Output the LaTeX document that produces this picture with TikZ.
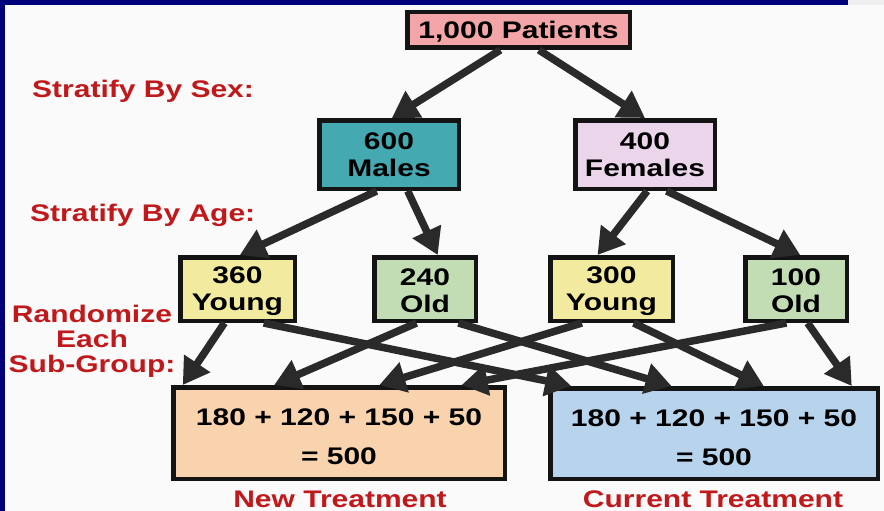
\documentclass[tikz,border=0pt]{standalone}
\usepackage{fontspec}
\setmainfont{Liberation Sans}[FakeStretch=1.25]
\usetikzlibrary{arrows.meta,calc}
\definecolor{navyc}{HTML}{00007A}
\definecolor{bgc}{HTML}{FAFAFA}
\definecolor{topgray}{HTML}{EFEFEF}
\definecolor{boxline}{HTML}{141414}
\definecolor{arrowc}{HTML}{2A2A2A}
\definecolor{patc}{HTML}{F3A5A8}
\definecolor{malec}{HTML}{45A9B1}
\definecolor{femc}{HTML}{EBD5EA}
\definecolor{youngc}{HTML}{F2EB9F}
\definecolor{oldc}{HTML}{C2DDB3}
\definecolor{newc}{HTML}{F8D3AE}
\definecolor{curc}{HTML}{B8D4EC}
\definecolor{labred}{HTML}{C0191C}
\newcommand{\topstrut}[1]{\rule{0pt}{#1}}
\begin{document}
\begin{tikzpicture}[x=1pt,y=-1pt,
  box/.style={draw=boxline, line width=4.5pt, inner sep=0pt, align=center,
    font=\fontsize{24}{27}\selectfont\bfseries, text=black},
  bigbox/.style={box, font=\fontsize{24}{39}\selectfont\bfseries},
  lab/.style={text=labred, inner sep=0pt, align=center,
    font=\fontsize{24}{25}\selectfont\bfseries},
  arr/.style={draw=arrowc, line width=7.5pt, -{Triangle[length=26pt,width=30pt]}}]
\useasboundingbox (0,0) rectangle (884,511);
\fill[bgc] (0,0) rectangle (884,511);
\fill[navyc] (0,0) rectangle (848,5.5);
\fill[topgray] (848,0) rectangle (884,5.5);
\fill[navyc] (0,0) rectangle (5,511);

% boxes
\node[box, fill=patc, minimum width=222.5pt, minimum height=35.5pt] (pat) at (518.5,30) {\topstrut{20pt}1,000 Patients};
\node[box, fill=malec, minimum width=139.5pt, minimum height=68.5pt] (males) at (389,154.5) {600\\Males};
\node[box, fill=femc, minimum width=139.5pt, minimum height=68.5pt] (fem) at (645,154.5) {400\\Females};
\node[box, fill=youngc, minimum width=114.5pt, minimum height=63.5pt] (y1) at (237.5,289) {\topstrut{21pt}360\\Young};
\node[box, fill=oldc, minimum width=101.5pt, minimum height=63.5pt] (o1) at (425,289) {\topstrut{21pt}240\\Old};
\node[box, fill=youngc, minimum width=122.5pt, minimum height=63.5pt] (y2) at (611.5,289) {\topstrut{21pt}300\\Young};
\node[box, fill=oldc, minimum width=101.5pt, minimum height=63.5pt] (o2) at (796,289) {\topstrut{21pt}100\\Old};
\node[bigbox, fill=newc, minimum width=331.5pt, minimum height=91.5pt] (newb) at (339,433) {\topstrut{25pt}180 + 120 + 150 + 50\\= 500};
\node[bigbox, fill=curc, minimum width=327.5pt, minimum height=90.5pt] (curb) at (714,433.5) {\topstrut{25pt}180 + 120 + 150 + 50\\= 500};

% labels
\node[lab, anchor=base west] (sex) at (32,97) {Stratify By Sex:};
\node[lab, anchor=base west] (age) at (30,221) {Stratify By Age:};
\node[lab] (rand) at (92,341) {Randomize\\Each\\Sub-Group:};
\node[lab, anchor=base] (newt) at (340,507) {New Treatment};
\node[lab, anchor=base] (curt) at (713,507) {Current Treatment};

% arrows level 1
\draw[arr] ($(pat.south west)!0.42!(pat.south east)$) -- ($(males.north west)!0.52!(males.north east)$);
\draw[arr] ($(pat.south west)!0.59!(pat.south east)$) -- ($(fem.north west)!0.50!(fem.north east)$);
% level 2
\draw[arr] ($(males.south west)!0.414!(males.south east)$) -- ($(y1.north west)!0.52!(y1.north east)$);
\draw[arr] ($(males.south west)!0.63!(males.south east)$) -- ($(o1.north west)!0.62!(o1.north east)$);
\draw[arr] ($(fem.south west)!0.515!(fem.south east)$) -- ($(y2.north west)!0.39!(y2.north east)$);
\draw[arr] ($(fem.south west)!0.65!(fem.south east)$) -- ($(o2.north west)!0.54!(o2.north east)$);
% level 3
\draw[arr] ($(y1.south west)!0.39!(y1.south east)$) -- ($(newb.north west)!0.035!(newb.north east)$);
\draw[arr] ($(y1.south west)!0.72!(y1.south east)$) -- ($(curb.north west)!0.07!(curb.north east)$);
\draw[arr] ($(o1.south west)!0.42!(o1.south east)$) -- ($(newb.north west)!0.307!(newb.north east)$);
\draw[arr] ($(o1.south west)!0.815!(o1.south east)$) -- ($(curb.north west)!0.372!(curb.north east)$);
\draw[arr] ($(y2.south west)!0.267!(y2.south east)$) -- ($(newb.north west)!0.62!(newb.north east)$);
\draw[arr] ($(y2.south west)!0.675!(y2.south east)$) -- ($(curb.north west)!0.65!(curb.north east)$);
\draw[arr] ($(o2.south west)!0.41!(o2.south east)$) -- ($(newb.north west)!0.865!(newb.north east)$);
\draw[arr] ($(o2.south west)!0.61!(o2.south east)$) -- ($(curb.north west)!0.915!(curb.north east)$);
\end{tikzpicture}
\end{document}
